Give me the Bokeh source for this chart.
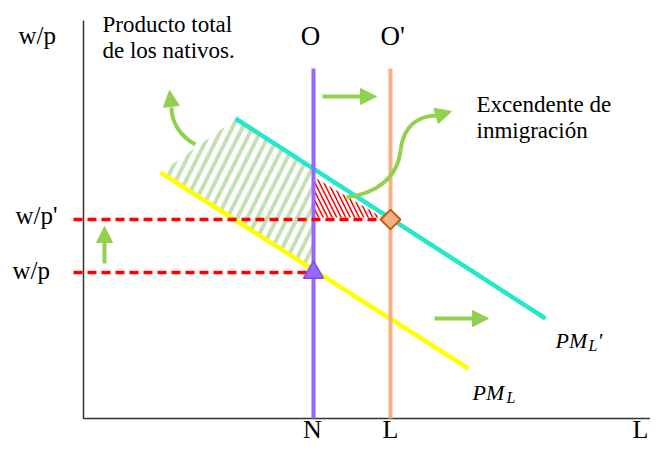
import math
from bokeh.plotting import figure
from bokeh.models import Range1d, Arrow, NormalHead
from bokeh.core.properties import value
from bokeh.embed import file_html
from bokeh.resources import INLINE

# ---------------- data (diagram units: labour on x, real wage on y) ----------------
pm_x = [77, 385]            # PM_L (marginal product before immigration)
pm_y = [246, 50]
pm2_x = [152, 462]          # PM_L' (after immigration)
pm2_y = [300, 100]
natives = 230               # N
labour_total = 307          # L
supply_top = 350
wage_low = 146              # w/p
wage_high = 199             # w/p'
axis_x_max = 577
axis_y_max = 398
native_area_x = [153, 77, 229, 229]
native_area_y = [300, 246, 150, 250]
surplus_x = [231, 231, 299]
surplus_y = [241, 201, 201]

GREEN = "#92d050"
SERIF = value("Liberation Serif")

p = figure(width=650, height=444, x_range=Range1d(-83, 567), y_range=Range1d(-26, 418),
           output_backend="svg", toolbar_location=None, min_border=0,
           x_axis_location=None, y_axis_location=None)
p.grid.visible = False
p.outline_line_color = None

# hatched areas
p.patch(native_area_x, native_area_y, fill_color=None, line_color=None,
        hatch_pattern="/", hatch_color="#c5e0b4", hatch_weight=4, hatch_scale=20)
p.patch(surplus_x, surplus_y, fill_color=None, line_color=None,
        hatch_pattern="\\", hatch_color="#ff0000", hatch_weight=1.5, hatch_scale=9)

# axes
p.line([0, 0, axis_x_max], [axis_y_max, 0, 0], line_color="#333333", line_width=1.5)

# demand curves
p.line(pm_x, pm_y, line_color="#ffff00", line_width=4.5)
p.line(pm2_x, pm2_y, line_color="#22e8cc", line_width=4.5)

# supply lines
p.segment(x0=[natives], y0=[0], x1=[natives], y1=[supply_top], line_color="#9966ff", line_width=4)
p.segment(x0=[labour_total], y0=[0], x1=[labour_total], y1=[supply_top], line_color="#f4b183", line_width=4)

# wage lines
p.line([-10, labour_total], [wage_high, wage_high], line_color="#ff0000", line_width=3.5, line_dash="9 5")
p.line([-10, natives], [wage_low, wage_low], line_color="#ff0000", line_width=3.5, line_dash="9 5")

# markers
p.scatter([natives], [wage_low], marker="triangle", size=20, fill_color="#9966ff",
          line_color="#7f4fe0", line_width=1.5)
p.scatter([labour_total], [wage_high], marker="square", angle=math.pi / 4, size=14,
          fill_color="#f4b183", line_color="#c55a11", line_width=2)

# arrows
def arrow(x0, y0, x1, y1, shaft=True):
    p.add_layout(Arrow(x_start=x0, y_start=y0, x_end=x1, y_end=y1,
                       end=NormalHead(size=16, fill_color=GREEN, line_color=GREEN, line_width=1),
                       line_color=GREEN, line_width=4 if shaft else 0,
                       line_alpha=1 if shaft else 0))

arrow(21, 155, 21, 192)
arrow(239, 322, 293, 322)
arrow(351, 100, 405, 100)

p.bezier(x0=[112], y0=[274], x1=[88], y1=[311], cx0=[97], cy0=[282], cx1=[88], cy1=[296],
         line_color=GREEN, line_width=4)
arrow(88, 311, 86, 328, shaft=False)

p.bezier(x0=[263, 317], y0=[221, 268], x1=[317, 354], y1=[268, 303],
         cx0=[292, 320], cy0=[225, 293], cx1=[314, 335], cy1=[240, 303],
         line_color=GREEN, line_width=4)
arrow(354, 303, 368, 307, shaft=False)

# texts
def txt(x, y, s, size, align="left", style="normal"):
    p.text(x=[x], y=[y], text=[s], text_font=SERIF, text_font_size=size,
           text_align=align, text_baseline="alphabetic", text_color="black",
           text_font_style=style)

txt(-65, 383, "w/p", "25px")
txt(19, 394, "Producto total", "23px")
txt(19, 368, "de los nativos.", "23px")
txt(227, 383, "O", "27px", "center")
txt(297, 383, "O'", "27px")
txt(393, 314, "Excendente de", "23px")
txt(393, 288, "inmigración", "23px")
txt(-68, 203, "w/p'", "25px")
txt(-71, 148, "w/p", "25px")
txt(229, -11, "N", "26px", "center")
txt(307, -11, "L", "26px", "center")
txt(549, -11, "L", "26px")

txt(472, 78, "PM", "22px", style="italic")
txt(505, 73, "L", "16px", style="italic")
txt(514, 78, "'", "22px", style="italic")
txt(389, 26, "PM", "22px", style="italic")
txt(423, 21, "L", "16px", style="italic")

open("out.html", "w").write(file_html(p, INLINE))
